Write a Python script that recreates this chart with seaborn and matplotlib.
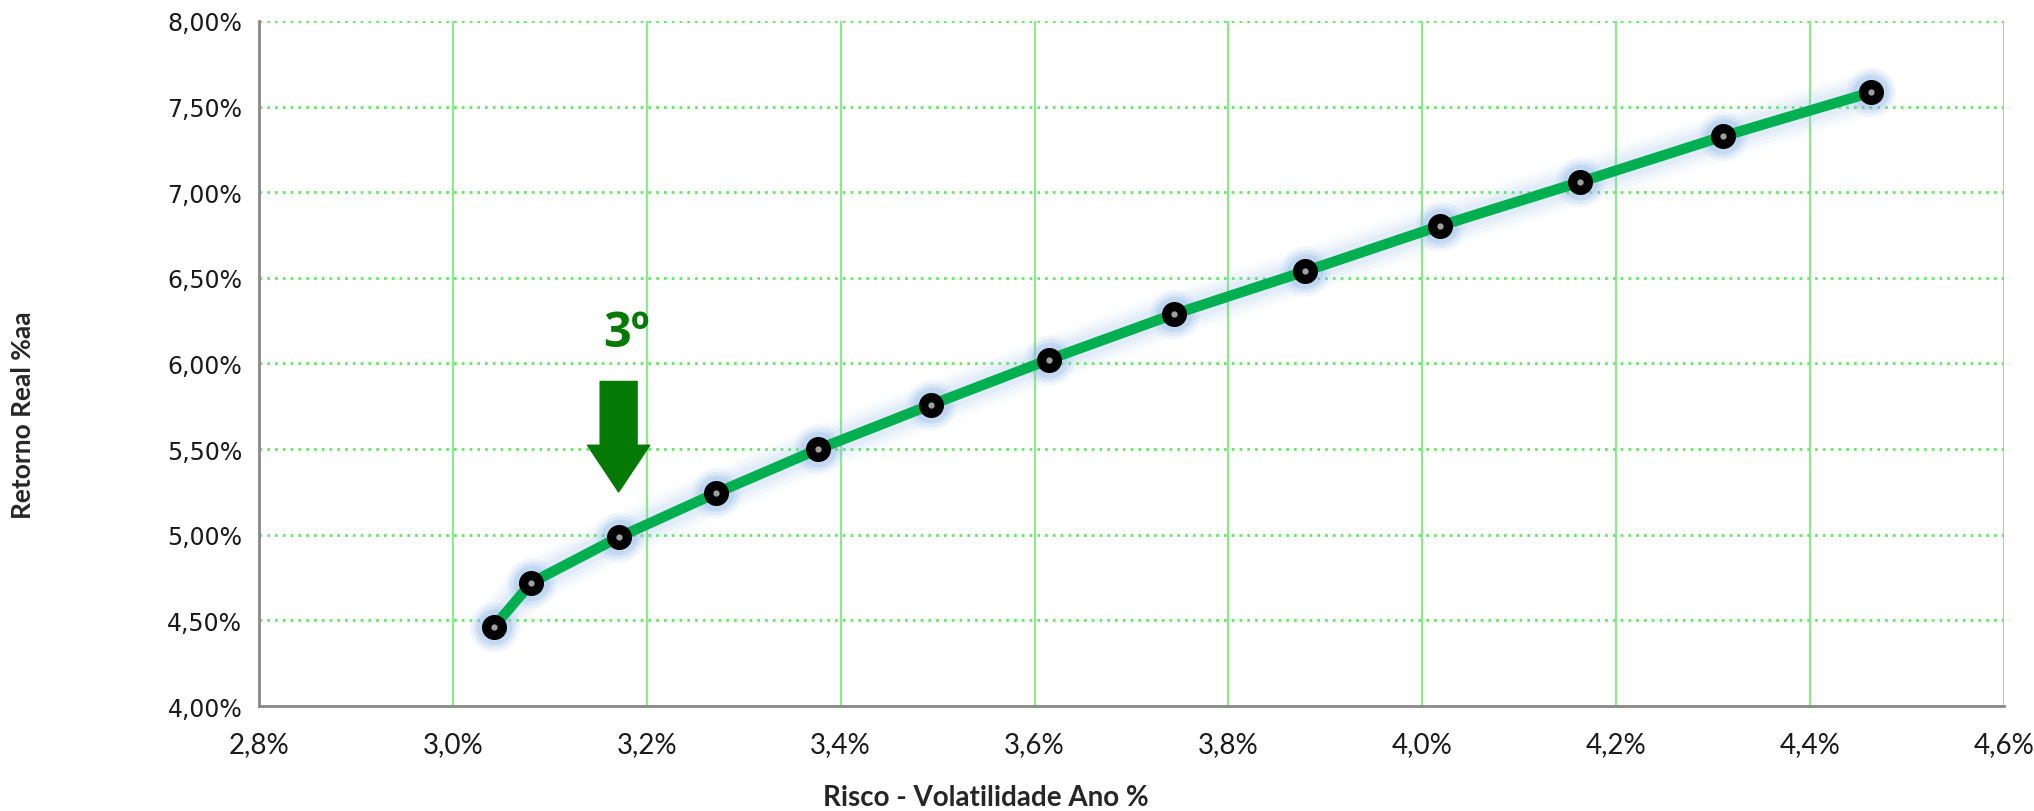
import matplotlib
matplotlib.use("Agg")
import matplotlib.pyplot as plt
import matplotlib.ticker as mticker
import numpy as np
import pandas as pd
import seaborn as sns

# Efficient frontier: risk (annual volatility, %) vs real return (% p.a.)
risco = [3.042, 3.081, 3.171, 3.271, 3.377, 3.493, 3.615, 3.744, 3.879, 4.018, 4.163, 4.310, 4.463]
retorno = [4.46, 4.72, 4.985, 5.242, 5.50, 5.758, 6.023, 6.288, 6.538, 6.803, 7.06, 7.326, 7.583]
x_ticks = [2.8, 3.0, 3.2, 3.4, 3.6, 3.8, 4.0, 4.2, 4.4, 4.6]
y_ticks = [4.0, 4.5, 5.0, 5.5, 6.0, 6.5, 7.0, 7.5, 8.0]
destaque_label = "3º"
destaque_idx = 2

df = pd.DataFrame({"risco": risco, "retorno": retorno})

sns.set_style("white")
plt.rcParams["font.family"] = ["DejaVu Sans"]
narrow = ["Lato", "DejaVu Sans"]

fig = plt.figure(figsize=(20.34, 8.12), dpi=100)
ax = fig.add_axes([0.1273, 0.1293, 0.8580, 0.8437])

ax.set_xlim(x_ticks[0], x_ticks[-1])
ax.set_ylim(y_ticks[0], y_ticks[-1])
ax.set_xticks(x_ticks)
ax.set_yticks(y_ticks)

# grid: solid vertical, dotted horizontal
for xv in x_ticks[1:]:
    ax.axvline(xv, color="#8ee88e", lw=1.6, zorder=0)
for yv in y_ticks[1:]:
    ax.axhline(yv, color="#66ea66", lw=2.0, ls=(0, (1, 1.8)), zorder=0)

# soft blue glow behind the curve
for lw, a in [(34, 0.04), (28, 0.06), (22, 0.08), (16, 0.10)]:
    ax.plot(df["risco"], df["retorno"], color="#8fb8ea", lw=lw, alpha=a,
            solid_capstyle="round", zorder=1)
for ms, a in [(36, 0.10), (31, 0.15), (26, 0.25)]:
    ax.plot(df["risco"], df["retorno"], ls="none", marker="o", ms=ms,
            color="#8fb8ea", alpha=a, mec="none", zorder=1)

sns.lineplot(data=df, x="risco", y="retorno", sort=False, color="#00b050",
             lw=7.5, ax=ax, zorder=2)
ax.plot(df["risco"], df["retorno"], ls="none", marker="o", ms=17,
        color="black", mec="black", zorder=3)
ax.plot(df["risco"], df["retorno"], ls="none", marker="o", ms=3.5,
        color="#a0a0a0", mec="#a0a0a0", zorder=4)

# highlight arrow over the third portfolio
hx = risco[destaque_idx]
hy = retorno[destaque_idx]
ax.annotate("", xy=(hx, hy + 0.265), xytext=(hx, hy + 0.91),
            arrowprops=dict(arrowstyle="simple,head_length=1.2,head_width=1.6,tail_width=0.95",
                            color="#047a04", mutation_scale=28, shrinkA=0, shrinkB=0),
            zorder=5)
ax.text(hx + 0.008, hy + 1.19, destaque_label, color="#047a04", fontsize=35,
        fontweight="bold", ha="center", va="center",
        family=["Open Sans", "DejaVu Sans"])

ax.xaxis.set_major_formatter(mticker.FuncFormatter(lambda v, p: f"{v:.1f}%".replace(".", ",")))
ax.yaxis.set_major_formatter(mticker.FuncFormatter(lambda v, p: f"{v:.2f}%".replace(".", ",")))

for lab in ax.get_yticklabels():
    lab.set_fontsize(17)
    lab.set_color("#1a1a1a")
for lab in ax.get_xticklabels():
    lab.set_fontsize(20)
    lab.set_family(narrow)
    lab.set_color("#1a1a1a")
ax.tick_params(axis="y", pad=12, length=0)
ax.tick_params(axis="x", pad=18, length=0)

for s in ["top", "right"]:
    ax.spines[s].set_visible(False)
for s in ["left", "bottom"]:
    ax.spines[s].set_color("#888888")
    ax.spines[s].set_linewidth(2)

ax.set_xlabel("")
ax.set_ylabel("")
fig.text(0.4848, 0.017, "Risco - Volatilidade Ano %", ha="center", va="center",
         fontsize=20, fontweight="bold", family=narrow)
fig.text(0.0115, 0.489, "Retorno Real %aa", ha="center", va="center", rotation=90,
         fontsize=19, fontweight="bold", family=narrow)

fig.savefig("out.png", dpi=100, facecolor="white")
